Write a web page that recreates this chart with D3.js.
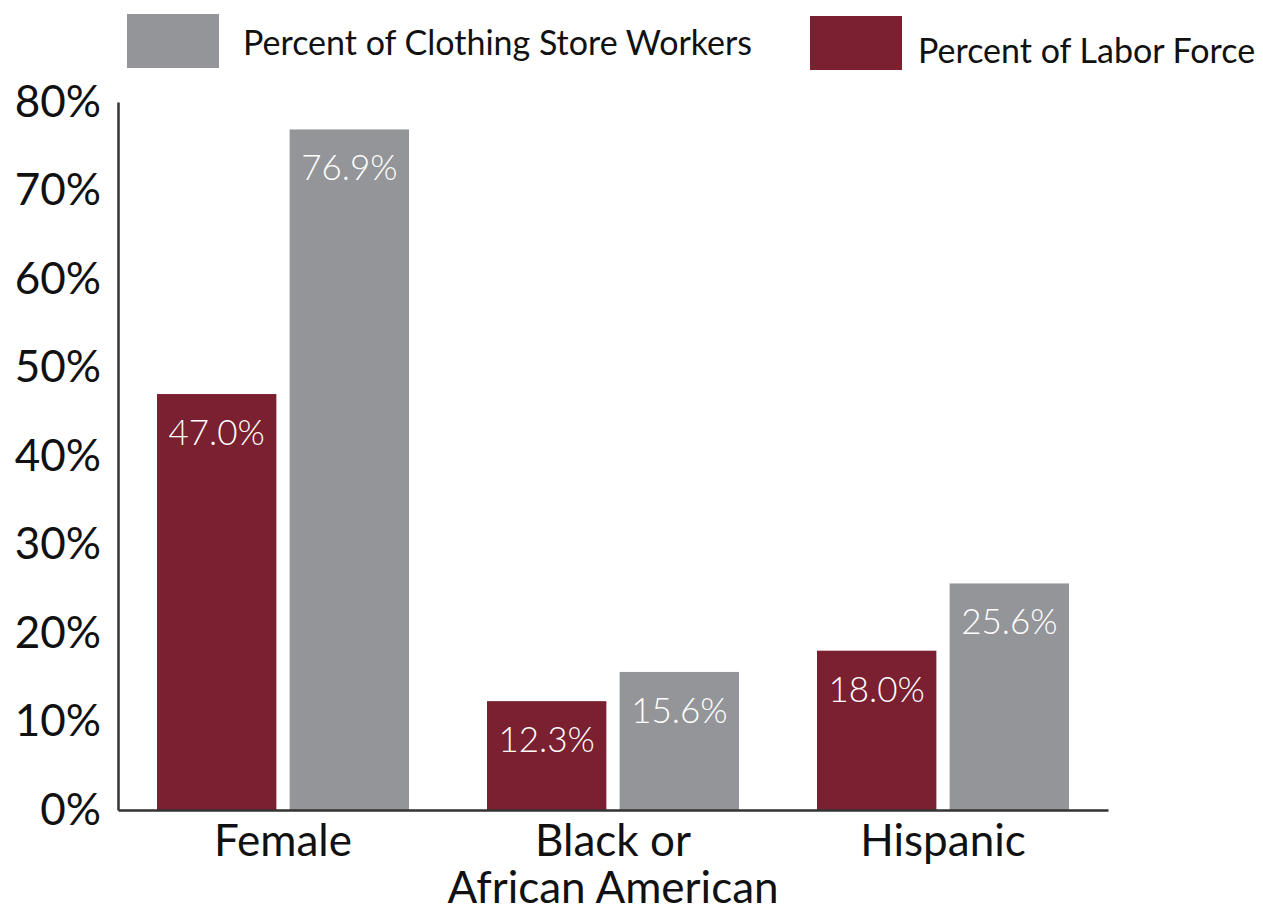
<!DOCTYPE html>
<html><head><meta charset="utf-8">
<script src="https://cdn.jsdelivr.net/npm/d3@7"></script>
<style>
body{margin:0;background:#fff;}
text{font-family:Lato,"Open Sans",sans-serif;}
</style></head>
<body><svg id="chart" width="1263" height="913"></svg>
<script>
const categories = [["Female"], ["Black or", "African American"], ["Hispanic"]];
const categoryKeys = ["Female", "Black or African American", "Hispanic"];
const seriesNames = ["Percent of Labor Force", "Percent of Clothing Store Workers"];
const laborForce = [47.0, 12.3, 18.0];
const clothingWorkers = [76.9, 15.6, 25.6];
const yTicks = [0, 10, 20, 30, 40, 50, 60, 70, 80];
const colors = {"Percent of Labor Force": "#7a2030", "Percent of Clothing Store Workers": "#939598"};

const svg = d3.select("#chart");
const x0 = d3.scaleBand().domain(categoryKeys).range([118, 1108]).padding(0);
const x1 = d3.scaleBand().domain(seriesNames).range([39, 291]).paddingInner(0.1).paddingOuter(0);
const y = d3.scaleLinear().domain([0, 80]).range([810, 102]);

const data = categoryKeys.map((c, i) => ({cat: c, values: [
  {s: seriesNames[0], v: laborForce[i]},
  {s: seriesNames[1], v: clothingWorkers[i]}
]}));

// bars
const g = svg.append("g").selectAll("g").data(data).join("g")
  .attr("transform", d => `translate(${x0(d.cat)},0)`);
g.selectAll("rect").data(d => d.values).join("rect")
  .attr("x", d => x1(d.s)).attr("width", x1.bandwidth())
  .attr("y", d => y(d.v)).attr("height", d => y(0) - y(d.v))
  .attr("fill", d => colors[d.s]);
g.selectAll("text.val").data(d => d.values).join("text").attr("class", "val")
  .attr("x", d => x1(d.s) + x1.bandwidth() / 2)
  .attr("y", d => y(d.v) + 51)
  .attr("text-anchor", "middle").attr("fill", "#fff")
  .attr("font-size", 35).attr("font-weight", 300)
  .text(d => d.v.toFixed(1) + "%");

// y axis
const yAxis = d3.axisLeft(y).tickValues(yTicks).tickSize(0).tickPadding(17).tickFormat(d => d + "%");
const ya = svg.append("g").attr("transform", "translate(118,0)").call(yAxis);
ya.select(".domain").attr("stroke", "#333").attr("stroke-width", 2.5);
ya.selectAll("text").attr("font-size", 44).attr("fill", "#111").attr("font-family", "Lato");

// x axis
const xAxis = d3.axisBottom(x0).tickSize(0).tickFormat("");
const xa = svg.append("g").attr("transform", "translate(0,810)").call(xAxis);
xa.select(".domain").attr("stroke", "#333").attr("stroke-width", 2.5);
xa.selectAll(".tick").each(function(d, i) {
  const t = d3.select(this).append("text").attr("fill", "#111").attr("font-size", 44)
    .attr("text-anchor", "middle").attr("font-family", "Lato");
  categories[i].forEach((line, j) => {
    t.append("tspan").attr("x", 0).attr("y", 46 + j * 47).text(line);
  });
});

// legend
const legendItems = [
  {s: seriesNames[1], rx: 127, ry: 14, tx: 243, ty: 55},
  {s: seriesNames[0], rx: 810, ry: 16, tx: 918, ty: 63}
];
const lg = svg.append("g").selectAll("g").data(legendItems).join("g");
lg.append("rect").attr("x", d => d.rx).attr("y", d => d.ry).attr("width", 92).attr("height", 54)
  .attr("fill", d => colors[d.s]);
lg.append("text").attr("x", d => d.tx).attr("y", d => d.ty).attr("font-size", 34)
  .attr("fill", "#111").text(d => d.s);
</script></body></html>
